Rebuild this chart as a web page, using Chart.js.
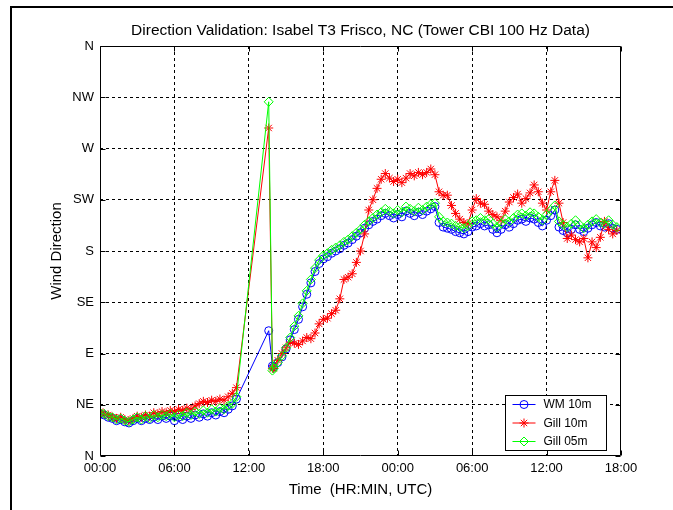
<!DOCTYPE html>
<html>
<head>
<meta charset="utf-8">
<title>Direction Validation</title>
<script src="https://cdn.jsdelivr.net/npm/chart.js@4/dist/chart.umd.min.js"></script>
<style>
  html, body { margin: 0; padding: 0; background: #fff; }
  canvas { display: block; }
</style>
</head>
<body>
<canvas id="dirChart" width="673" height="510"></canvas>
<script>
// --- data: sample times (minutes from 00:00 UTC) and wind direction in degrees ---
const minutes = [
  0, 20, 40, 60, 80, 100, 120, 140, 160, 180, 200, 220, 240, 260, 280, 300, 320,
  340, 360, 380, 400, 420, 440, 460, 480, 500, 520, 540, 560, 580, 600, 620, 640, 660,
  816, 834,
  840, 860, 880, 900, 920, 940, 960, 980, 1000, 1020, 1040, 1060, 1080, 1100, 1120,
  1140, 1160, 1180, 1200, 1220, 1240, 1260, 1280, 1300, 1320, 1340, 1360, 1380, 1400,
  1420, 1440, 1460, 1480, 1500, 1520, 1540, 1560, 1580, 1600, 1620, 1640, 1660, 1680,
  1700, 1720, 1740, 1760, 1780, 1800, 1820, 1840, 1860, 1880, 1900, 1920, 1940, 1960,
  1980, 2000, 2020, 2040, 2060, 2080, 2100, 2120, 2140, 2160, 2180, 2200, 2220, 2240,
  2260, 2280, 2300, 2320, 2340, 2360, 2380, 2400, 2420, 2440, 2460, 2480, 2500
];

const wm10m = [
  37, 36, 34, 33, 31, 32, 30, 29, 31, 33, 31, 33, 32, 34, 32, 35, 33,
  35, 31, 34, 32, 35, 33, 36, 34, 37, 35, 38, 36, 39, 38, 41, 44, 50,
  110, 79,
  78, 82, 87, 94, 102, 111, 120, 131, 142, 152, 162, 169, 173, 175, 178,
  180, 182, 185, 187, 190, 193, 196, 200, 203, 206, 208, 211, 213, 211, 209,
  212, 210, 215, 213, 211, 214, 212, 215, 217, 219, 205, 201, 200, 199, 197,
  196, 195, 197, 201, 202, 204, 202, 203, 199, 196, 199, 203, 201, 204, 207,
  208, 206, 209, 208, 205, 202, 207, 211, 216, 201, 198, 196, 199, 203, 199,
  197, 200, 203, 205, 202, 201, 204, 200, 199
];

const gill10m = [
  39, 37, 36, 34, 33, 34, 32, 31, 33, 35, 34, 36, 35, 38, 37, 39, 38,
  40, 39, 41, 40, 42, 41, 44, 46, 48, 47, 49, 48, 50, 49, 52, 55, 60,
  288, 77,
  77, 84, 90, 95, 100, 99, 98, 101, 104, 103, 108, 116, 120, 121, 125,
  128, 138, 155, 157, 160, 170, 180, 195, 216, 225, 235, 243, 248, 244, 241,
  243, 240, 244, 248, 246, 249, 247, 249, 252, 247, 232, 229, 229, 220, 213,
  208, 205, 204, 216, 226, 222, 221, 215, 212, 210, 207, 215, 223, 227, 230,
  222, 226, 231, 238, 232, 222, 216, 232, 242, 222, 205, 191, 194, 190, 188,
  191, 174, 188, 183, 192, 206, 199, 195, 198
];

const gill05m = [
  38, 37, 35, 34, 32, 33, 31, 30, 32, 34, 32, 35, 33, 36, 34, 36, 35,
  37, 34, 36, 35, 38, 36, 39, 37, 40, 38, 41, 39, 42, 41, 44, 46, 52,
  311, 75,
  77, 82, 88, 95, 104, 114, 123, 134, 145, 155, 165, 172, 176, 178, 181,
  183, 185, 188, 190, 193, 196, 199, 203, 206, 209, 212, 214, 217, 215, 213,
  216, 214, 219, 217, 215, 218, 216, 219, 221, 222, 210, 206, 205, 204, 202,
  201, 200, 202, 206, 207, 209, 207, 208, 204, 201, 204, 208, 206, 209, 212,
  213, 211, 214, 213, 210, 207, 212, 216, 220, 206, 203, 201, 204, 207, 203,
  200, 203, 206, 208, 205, 204, 207, 203, 201
];

const compassLabels = ['N', 'NE', 'E', 'SE', 'S', 'SW', 'W', 'NW', 'N'];
const seriesNames = ['WM 10m', 'Gill 10m', 'Gill 05m'];

const FONT = "'Liberation Sans', Arial, Helvetica, sans-serif";

function toPoints(values) {
  return values.map((v, i) => ({ x: minutes[i], y: v }));
}

// small marker painter for the legend box
function drawMarker(ctx, style, x, y, r) {
  ctx.beginPath();
  if (style === 'circle') {
    ctx.arc(x, y, r, 0, Math.PI * 2);
  } else if (style === 'rectRot') {
    ctx.moveTo(x, y - r); ctx.lineTo(x + r, y); ctx.lineTo(x, y + r); ctx.lineTo(x - r, y);
    ctx.closePath();
  } else if (style === 'star') {
    ctx.moveTo(x - r, y); ctx.lineTo(x + r, y);
    ctx.moveTo(x, y - r); ctx.lineTo(x, y + r);
    const d = r * Math.SQRT1_2;
    ctx.moveTo(x - d, y - d); ctx.lineTo(x + d, y + d);
    ctx.moveTo(x - d, y + d); ctx.lineTo(x + d, y - d);
  }
  ctx.stroke();
}

// figure border, axes box, inward tick marks and the legend
const matlabAxes = {
  id: 'matlabAxes',
  beforeDraw(chart) {
    const ctx = chart.ctx;
    ctx.save();
    ctx.fillStyle = '#fff';
    ctx.fillRect(0, 0, chart.width, chart.height);
    ctx.fillStyle = '#000';
    ctx.fillRect(10, 6, chart.width - 10, 2);
    ctx.fillRect(10, 6, 2, chart.height - 6);
    ctx.restore();
  },
  afterDraw(chart) {
    const { ctx, chartArea: a, scales: { x, y } } = chart;
    ctx.save();
    ctx.strokeStyle = '#000';
    ctx.lineWidth = 1;
    ctx.setLineDash([]);
    const L = Math.round(a.left) + 0.5, R = Math.round(a.right) - 0.5;
    const T = Math.round(a.top) + 0.5, B = Math.round(a.bottom) - 0.5;
    const tl = 5;
    ctx.beginPath();
    x.ticks.forEach(t => {
      const px = Math.round(x.getPixelForValue(t.value)) + 0.5;
      ctx.moveTo(px, T); ctx.lineTo(px, T + tl);
      ctx.moveTo(px, B); ctx.lineTo(px, B - tl);
    });
    y.ticks.forEach(t => {
      const py = Math.round(y.getPixelForValue(t.value)) + 0.5;
      ctx.moveTo(L, py); ctx.lineTo(L + tl, py);
      ctx.moveTo(R, py); ctx.lineTo(R - tl, py);
    });
    ctx.stroke();

    // legend box in the lower right corner of the axes
    const bx = 505.5, by = 395.5, bw = 101, bh = 55;
    ctx.fillStyle = '#fff';
    ctx.fillRect(bx, by, bw, bh);
    ctx.strokeRect(bx, by, bw, bh);
    ctx.font = '12px ' + FONT;
    ctx.textBaseline = 'middle';
    ctx.textAlign = 'left';
    chart.data.datasets.forEach((ds, i) => {
      const ry = by + 9 + i * 18.5;
      ctx.strokeStyle = ds.borderColor;
      ctx.lineWidth = 1;
      ctx.beginPath();
      ctx.moveTo(bx + 7, ry); ctx.lineTo(bx + 30, ry);
      ctx.stroke();
      drawMarker(ctx, ds.pointStyle, bx + 18.5, ry, ds.pointRadius);
      ctx.fillStyle = '#000';
      ctx.fillText(seriesNames[i], bx + 38, ry + 0.5);
    });

    ctx.strokeStyle = '#000';
    ctx.beginPath();
    ctx.rect(L, T, R - L, B - T);
    ctx.stroke();
    ctx.restore();
  }
};

const ctx = document.getElementById('dirChart').getContext('2d');

new Chart(ctx, {
  type: 'line',
  data: {
    datasets: [
      {
        label: seriesNames[0], data: toPoints(wm10m), order: 2,
        borderColor: '#0000ff', borderWidth: 1, tension: 0,
        pointStyle: 'circle', pointRadius: 4, pointBorderWidth: 1,
        pointBorderColor: '#0000ff', pointBackgroundColor: 'rgba(0,0,0,0)'
      },
      {
        label: seriesNames[1], data: toPoints(gill10m), order: 1,
        borderColor: '#ff0000', borderWidth: 1, tension: 0,
        pointStyle: 'star', pointRadius: 4.5, pointBorderWidth: 1,
        pointBorderColor: '#ff0000', pointBackgroundColor: 'rgba(0,0,0,0)'
      },
      {
        label: seriesNames[2], data: toPoints(gill05m), order: 0,
        borderColor: '#00ff00', borderWidth: 1, tension: 0,
        pointStyle: 'rectRot', pointRadius: 4.5, pointBorderWidth: 1,
        pointBorderColor: '#00ff00', pointBackgroundColor: 'rgba(0,0,0,0)'
      }
    ]
  },
  options: {
    responsive: false,
    animation: false,
    events: [],
    layout: { padding: { left: 0, right: 52, top: 0, bottom: 0 } },
    plugins: {
      legend: { display: false },
      tooltip: { enabled: false },
      title: {
        display: true,
        fullSize: false,
        text: 'Direction Validation: Isabel T3 Frisco, NC (Tower CBI 100 Hz Data)',
        color: '#000',
        font: { family: FONT, size: 15.5, weight: 'normal' },
        padding: { top: 21, bottom: 6.4 }
      }
    },
    scales: {
      x: {
        type: 'linear',
        min: 0,
        max: 2520,
        afterFit(scale) { scale.height = 54; },
        ticks: {
          stepSize: 360,
          autoSkip: false,
          maxRotation: 0,
          padding: 5,
          color: '#000',
          font: { family: FONT, size: 13 },
          callback: v => String((v / 60) % 24).padStart(2, '0') + ':00'
        },
        grid: {
          drawTicks: false,
          lineWidth: 1,
          color: c => (c.index === 0 || c.index === 7) ? 'rgba(0,0,0,0)' : '#000'
        },
        border: { display: false, dash: [3, 3] },
        title: {
          display: true,
          text: 'Time  (HR:MIN, UTC)',
          color: '#000',
          font: { family: FONT, size: 15 },
          padding: { top: 0, bottom: 11 }
        }
      },
      y: {
        min: 0,
        max: 360,
        afterFit(scale) { scale.width = 100; },
        ticks: {
          stepSize: 45,
          autoSkip: false,
          padding: 6,
          color: '#000',
          font: { family: FONT, size: 13 },
          callback: v => compassLabels[Math.round(v / 45)]
        },
        grid: {
          drawTicks: false,
          lineWidth: 1,
          color: c => (c.index === 0 || c.index === 8) ? 'rgba(0,0,0,0)' : '#000'
        },
        border: { display: false, dash: [3, 3] },
        title: {
          display: true,
          text: 'Wind Direction',
          color: '#000',
          font: { family: FONT, size: 15 },
          padding: { top: 48, bottom: 0 }
        }
      }
    }
  },
  plugins: [matlabAxes]
});
</script>
</body>
</html>
